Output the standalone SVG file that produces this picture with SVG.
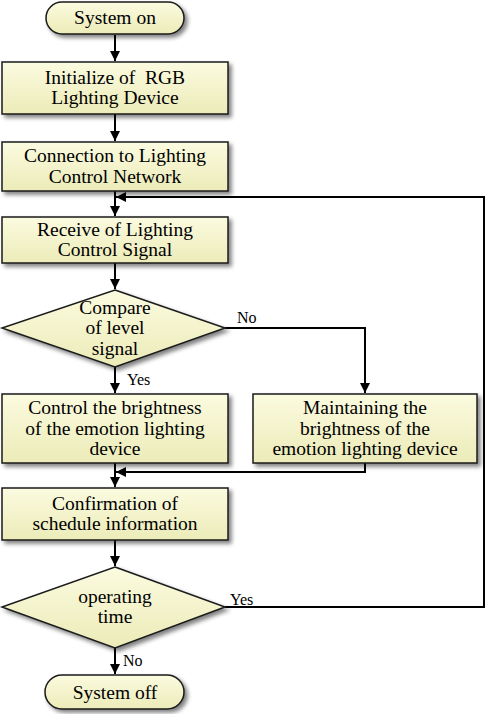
<svg xmlns="http://www.w3.org/2000/svg" width="488" height="714" viewBox="0 0 488 714">
<style>
.s{fill:url(#g);stroke:#1a1a1a;stroke-width:1.5;filter:url(#sh)}
.t{font-family:'Liberation Serif','Times New Roman',serif;font-size:19.5px;fill:#000;text-anchor:middle}
.l{font-family:'Liberation Serif','Times New Roman',serif;font-size:16px;fill:#000}
.c{fill:none;stroke:#000;stroke-width:2}
</style>
<defs>
<linearGradient id="g" x1="0" y1="0" x2="0" y2="1">
<stop offset="0" stop-color="#fbfbe0"/>
<stop offset="1" stop-color="#ecebb8"/>
</linearGradient>
<filter id="sh" x="-10%" y="-20%" width="125%" height="150%">
<feGaussianBlur in="SourceAlpha" stdDeviation="2"/>
<feOffset dx="3" dy="3" result="b"/>
<feComponentTransfer><feFuncA type="linear" slope="0.5"/></feComponentTransfer>
<feMerge><feMergeNode/><feMergeNode in="SourceGraphic"/></feMerge>
</filter>
<marker id="a" viewBox="0 0 10 10" refX="10" refY="5" markerWidth="5" markerHeight="5" orient="auto-start-reverse">
<path d="M0,0 L10,5 L0,10 z" fill="#000"/>
</marker>
</defs>
<g id="connectors">
<line class="c" x1="115" y1="35" x2="115" y2="61" marker-end="url(#a)"/>
<line class="c" x1="115" y1="114" x2="115" y2="141" marker-end="url(#a)"/>
<line class="c" x1="115" y1="191" x2="115" y2="216" marker-end="url(#a)"/>
<polyline class="c" points="225,607 484,607 484,197 116,197" marker-end="url(#a)"/>
<line class="c" x1="115" y1="263" x2="115" y2="289" marker-end="url(#a)"/>
<polyline class="c" points="225,328 365,328 365,393" marker-end="url(#a)"/>
<line class="c" x1="115" y1="367" x2="115" y2="393" marker-end="url(#a)"/>
<polyline class="c" points="365,463 365,472 116,472" marker-end="url(#a)"/>
<line class="c" x1="115" y1="463" x2="115" y2="487" marker-end="url(#a)"/>
<line class="c" x1="115" y1="540" x2="115" y2="566" marker-end="url(#a)"/>
<line class="c" x1="115" y1="648" x2="115" y2="674" marker-end="url(#a)"/>
<text class="l" x="237" y="323">No</text>
<text class="l" x="127" y="385">Yes</text>
<text class="l" x="230" y="605">Yes</text>
<text class="l" x="123" y="666">No</text>
</g>
<g id="start">
<rect class="s" x="46" y="2" width="138" height="32" rx="16"/>
<text class="t" x="115" y="24">System on</text>
</g>
<g id="init">
<rect class="s" x="2" y="62" width="226" height="52"/>
<text class="t" x="115" y="83.5">Initialize of&#160; RGB<tspan x="115" dy="20.5">Lighting Device</tspan></text>
</g>
<g id="connect">
<rect class="s" x="2" y="142" width="226" height="49"/>
<text class="t" x="115" y="162">Connection to Lighting<tspan x="115" dy="20.5">Control Network</tspan></text>
</g>
<g id="receive">
<rect class="s" x="2" y="217" width="226" height="46"/>
<text class="t" x="115" y="235.5">Receive of Lighting<tspan x="115" dy="20.5">Control Signal</tspan></text>
</g>
<g id="compare">
<polygon class="s" points="115,290 225,328 115,367 2,328"/>
<text class="t" x="115" y="313.5">Compare<tspan x="115" dy="20.5">of level</tspan><tspan x="115" dy="20.5">signal</tspan></text>
</g>
<g id="control">
<rect class="s" x="2" y="394" width="226" height="69"/>
<text class="t" x="115" y="414">Control the brightness<tspan x="115" dy="20.5">of the emotion lighting</tspan><tspan x="115" dy="20.5">device</tspan></text>
</g>
<g id="maintain">
<rect class="s" x="253" y="394" width="224" height="69"/>
<text class="t" x="365" y="414">Maintaining the<tspan x="365" dy="20.5">brightness of the</tspan><tspan x="365" dy="20.5">emotion lighting device</tspan></text>
</g>
<g id="confirm">
<rect class="s" x="2" y="488" width="226" height="52"/>
<text class="t" x="115" y="509.5">Confirmation of<tspan x="115" dy="20.5">schedule information</tspan></text>
</g>
<g id="operating">
<polygon class="s" points="115,567 225,607 115,648 2,607"/>
<text class="t" x="115" y="602.5">operating<tspan x="115" dy="20.5">time</tspan></text>
</g>
<g id="end">
<rect class="s" x="45" y="675" width="139" height="34" rx="17"/>
<text class="t" x="115" y="698.5">System off</text>
</g>
</svg>
